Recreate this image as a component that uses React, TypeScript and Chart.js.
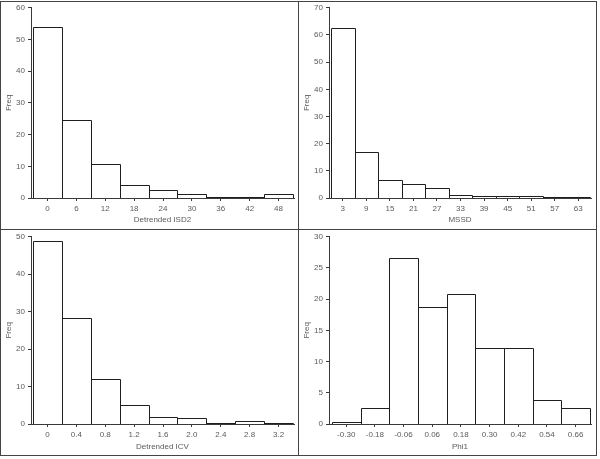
import React, { useEffect, useRef } from "react";
import { Chart, registerables } from "chart.js";

Chart.register(...registerables);

// ---- data ----
const isd2Labels = ["0", "6", "12", "18", "24", "30", "36", "42", "48"];
const isd2Freq = [54.0, 24.6, 10.7, 4.1, 2.5, 1.3, 0.3, 0.3, 1.3];

const mssdLabels = ["3", "9", "15", "21", "27", "33", "39", "45", "51", "57", "63"];
const mssdFreq = [62.6, 16.8, 6.7, 5.2, 3.8, 1.2, 0.9, 0.9, 0.9, 0.5, 0.5];

const icvLabels = ["0", "0.4", "0.8", "1.2", "1.6", "2.0", "2.4", "2.8", "3.2"];
const icvFreq = [48.8, 28.3, 12.0, 5.0, 1.9, 1.6, 0.35, 0.8, 0.35];

const phiLabels = ["-0.30", "-0.18", "-0.06", "0.06", "0.18", "0.30", "0.42", "0.54", "0.66"];
const phiFreq = [0.37, 2.5, 26.6, 18.7, 20.9, 12.1, 12.1, 3.9, 2.5];

const yTitle = "Freq";

type Panel = {
  labels: string[];
  freq: number[];
  xTitle: string;
  yMax: number;
  yStep: number;
  left: number;
  top: number;
  width: number;
  height: number;
  padTop: number;
  padRight: number;
  gapL: number;
  gapR: number;
  titlePad: number;
};

const panels: Panel[] = [
  { labels: isd2Labels, freq: isd2Freq, xTitle: "Detrended ISD2", yMax: 60, yStep: 10,
    left: 0, top: 0, width: 298, height: 229, padTop: 6, padRight: 4, gapL: 0.07, gapR: 0.035, titlePad: 4 },
  { labels: mssdLabels, freq: mssdFreq, xTitle: "MSSD", yMax: 70, yStep: 10,
    left: 298, top: 0, width: 298, height: 229, padTop: 6, padRight: 5, gapL: 0.085, gapR: 0.04, titlePad: 4 },
  { labels: icvLabels, freq: icvFreq, xTitle: "Detrended ICV", yMax: 50, yStep: 10,
    left: 0, top: 229, width: 298, height: 226, padTop: 5, padRight: 4, gapL: 0.07, gapR: 0.035, titlePad: 3 },
  { labels: phiLabels, freq: phiFreq, xTitle: "Phi1", yMax: 30, yStep: 5,
    left: 298, top: 229, width: 298, height: 226, padTop: 5, padRight: 5, gapL: 0.1, gapR: 0.035, titlePad: 3 },
];

const FONT = { family: "'Liberation Sans', Arial, sans-serif", size: 8 };
const TEXT = "#5a5a5a";
const LINE = "#3a3a3a";
const BAR_EDGE = "#1e1e1e";

// crisp histogram outlines drawn from the bar elements the library laid out
const outlinePlugin = {
  id: "histOutline",
  afterDatasetsDraw(chart: any) {
    const ctx = chart.ctx;
    const meta = chart.getDatasetMeta(0);
    ctx.save();
    ctx.strokeStyle = BAR_EDGE;
    ctx.lineWidth = 1;
    ctx.beginPath();
    meta.data.forEach((el: any) => {
      const { x, y, base, width } = el.getProps(["x", "y", "base", "width"], true);
      const l = Math.round(x - width / 2) + 0.5;
      const r = Math.round(x + width / 2) + 0.5;
      const t = Math.round(y) + 0.5;
      const b = Math.round(base);
      ctx.moveTo(l, b);
      ctx.lineTo(l, t);
      ctx.lineTo(r, t);
      ctx.lineTo(r, b);
    });
    ctx.stroke();
    ctx.restore();
  },
};

function Hist({ p }: { p: Panel }) {
  const ref = useRef<HTMLCanvasElement | null>(null);
  useEffect(() => {
    if (!ref.current) return;
    const centers = p.labels.map(Number);
    const bw = centers[1] - centers[0];
    const lo = centers[0] - bw / 2;
    const hi = centers[centers.length - 1] + bw / 2;
    const chart = new Chart(ref.current, {
      type: "bar",
      data: {
        datasets: [
          {
            data: p.freq.map((y, i) => ({ x: centers[i], y })),
            backgroundColor: "#ffffff",
            borderWidth: 0,
            barPercentage: 1,
            categoryPercentage: 1,
            inflateAmount: 0,
          } as any,
        ],
      },
      plugins: [outlinePlugin],
      options: {
        responsive: false,
        animation: false,
        events: [],
        layout: { padding: { left: 0, top: p.padTop, right: p.padRight, bottom: 0 } },
        plugins: { legend: { display: false }, tooltip: { enabled: false } },
        scales: {
          x: {
            type: "linear",
            offset: false,
            bounds: "data",
            min: lo - p.gapL * bw,
            max: hi + p.gapR * bw,
            afterBuildTicks: (s: any) => {
              s.ticks = centers.map((v) => ({ value: v }));
            },
            afterFit: (s: any) => {
              s.height = 31;
            },
            ticks: {
              autoSkip: false,
              maxRotation: 0,
              minRotation: 0,
              padding: 3,
              color: TEXT,
              font: FONT,
              callback: (_v: any, i: number) => p.labels[i],
            },
            grid: {
              display: true,
              drawOnChartArea: false,
              drawTicks: true,
              tickLength: 3,
              tickColor: LINE,
              offset: false,
            },
            border: { display: true, color: LINE, width: 1 },
            title: {
              display: true,
              text: p.xTitle,
              color: TEXT,
              font: FONT,
              padding: { top: 0, bottom: p.titlePad },
            },
          },
          y: {
            type: "linear",
            min: 0,
            max: p.yMax,
            afterFit: (s: any) => {
              s.width = 31;
            },
            ticks: {
              stepSize: p.yStep,
              padding: 3,
              color: TEXT,
              font: FONT,
            },
            grid: {
              display: true,
              drawOnChartArea: false,
              drawTicks: true,
              tickLength: 3,
              tickColor: LINE,
            },
            border: { display: true, color: LINE, width: 1 },
            title: {
              display: true,
              text: yTitle,
              color: TEXT,
              font: FONT,
              padding: { top: 4, bottom: 0 },
            },
          },
        },
      } as any,
    });
    return () => chart.destroy();
  }, [p]);
  return (
    <canvas
      ref={ref}
      width={p.width}
      height={p.height}
      style={{ position: "absolute", left: p.left, top: p.top, width: p.width, height: p.height }}
    />
  );
}

export default function App() {
  return (
    <div style={{ position: "fixed", left: 0, top: 0, width: 600, height: 459, background: "#ffffff", overflow: "hidden" }}>
      {panels.map((p, i) => (
        <Hist key={i} p={p} />
      ))}
      <div style={{ position: "absolute", left: 0, top: 1, width: 597, height: 455, border: "1px solid #444", boxSizing: "border-box" }} />
      <div style={{ position: "absolute", left: 298, top: 1, width: 1, height: 455, background: "#444" }} />
      <div style={{ position: "absolute", left: 0, top: 229, width: 597, height: 1, background: "#444" }} />
    </div>
  );
}
